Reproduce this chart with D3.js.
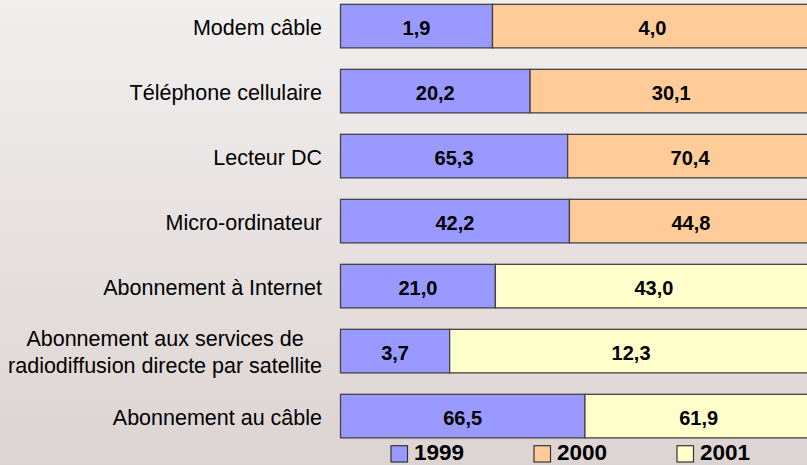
<!DOCTYPE html>
<html>
<head>
<meta charset="utf-8">
<script src="https://cdn.jsdelivr.net/npm/d3@7/dist/d3.min.js"></script>
<style>
html,body{margin:0;padding:0;overflow:hidden;}
svg{display:block;}
text{font-family:"Liberation Sans",Arial,sans-serif;}
</style>
</head>
<body>
<script>
const categories = [
  ["Modem câble"],
  ["Téléphone cellulaire"],
  ["Lecteur DC"],
  ["Micro-ordinateur"],
  ["Abonnement à Internet"],
  ["Abonnement aux services de", "radiodiffusion directe par satellite"],
  ["Abonnement au câble"]
];
const v1999 = [1.9, 20.2, 65.3, 42.2, 21.0, 3.7, 66.5];
const v2000 = [4.0, 30.1, 70.4, 44.8, null, null, null];
const v2001 = [null, null, null, null, 43.0, 12.3, 61.9];
const seriesNames = ["1999", "2000", "2001"];
const seriesColors = ["#9999FF", "#FFCC99", "#FFFFCC"];

const W = 807, H = 465;
const svg = d3.select("body").append("svg").attr("width", W).attr("height", H);

const defs = svg.append("defs");
const grad = defs.append("linearGradient").attr("id", "bg").attr("x1", 0).attr("y1", 0).attr("x2", 0).attr("y2", 1);
grad.append("stop").attr("offset", "0%").attr("stop-color", "#f1efee");
grad.append("stop").attr("offset", "100%").attr("stop-color", "#dcd4d3");
svg.append("rect").attr("width", W).attr("height", H).attr("fill", "url(#bg)");

const keys = categories.map((c, i) => i);
const y = d3.scaleBand().domain(keys).range([-6.4, -6.4 + 7 * 65]).paddingInner(0.33).paddingOuter(0.165);
const x = d3.scaleLinear().domain([0, 100]).range([340.5, 812.5]);

const rows = keys.map(i => {
  const a = v1999[i];
  const b = v2000[i] != null ? v2000[i] : v2001[i];
  const s = v2000[i] != null ? 1 : 2;
  const tot = a + b;
  return {i, segs: [
    {v: a, p0: 0, p1: a / tot * 100, s: 0},
    {v: b, p0: a / tot * 100, p1: 100, s: s}
  ]};
});

const fmt = v => v.toFixed(1).replace(".", ",");

const g = svg.append("g");
rows.forEach(r => {
  r.segs.forEach(sg => {
    g.append("rect")
      .attr("x", x(sg.p0)).attr("y", y(r.i))
      .attr("width", x(sg.p1) - x(sg.p0)).attr("height", y.bandwidth())
      .attr("fill", seriesColors[sg.s]).attr("stroke", "#444").attr("stroke-width", 1.3);
    g.append("text")
      .attr("x", (x(sg.p0) + x(sg.p1)) / 2)
      .attr("y", y(r.i) + y.bandwidth() / 2 + 8.5)
      .attr("text-anchor", "middle").attr("font-size", 20).attr("font-weight", "bold")
      .attr("fill", "#000").text(fmt(sg.v));
  });
});

// category labels
categories.forEach((lines, i) => {
  const cy = y(i) + y.bandwidth() / 2;
  if (lines.length === 1) {
    svg.append("text").attr("x", 322).attr("y", cy + 9).attr("text-anchor", "end")
      .attr("font-size", 21.5).attr("fill", "#000").text(lines[0]);
  } else {
    const t = svg.append("text").attr("text-anchor", "middle").attr("font-size", 21.5).attr("fill", "#000");
    const spans = lines.map((l, k) => t.append("tspan").attr("y", cy - 5.5 + k * 27).text(l));
    const maxW = d3.max(spans, s => s.node().getComputedTextLength());
    spans.forEach(s => s.attr("x", 322 - maxW / 2));
  }
});

// legend
const legX = [391, 534, 677];
seriesNames.forEach((n, k) => {
  svg.append("rect").attr("x", legX[k]).attr("y", 445.7).attr("width", 16.5).attr("height", 16.3)
    .attr("fill", seriesColors[k]).attr("stroke", "#333").attr("stroke-width", 1.2);
  svg.append("text").attr("x", legX[k] + 23).attr("y", 460)
    .attr("font-size", 22.5).attr("font-weight", "bold").attr("fill", "#000").text(n);
});
</script>
</body>
</html>
